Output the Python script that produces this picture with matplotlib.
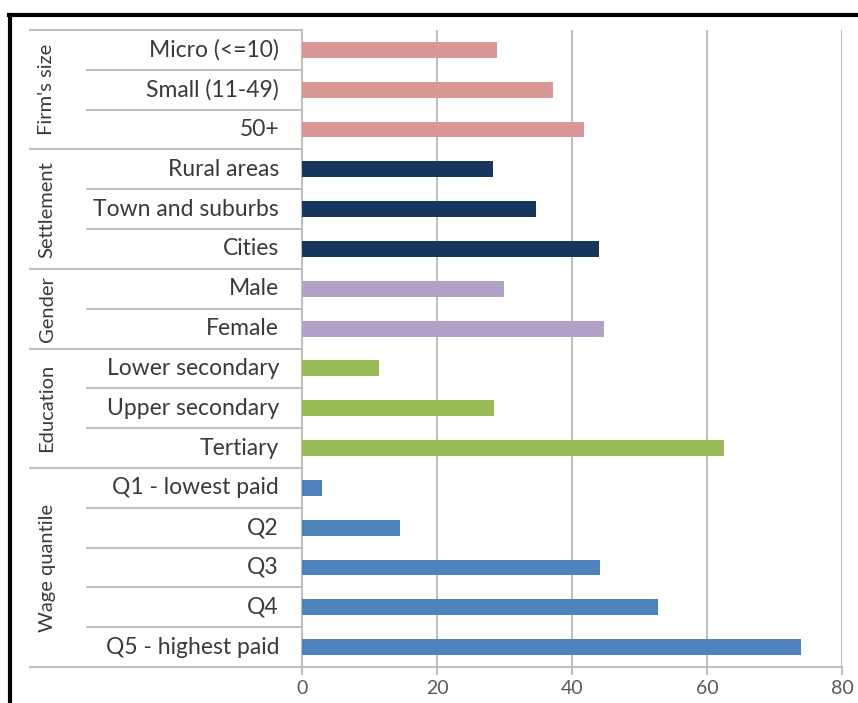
import matplotlib
matplotlib.use("Agg")
import matplotlib.pyplot as plt
from matplotlib.lines import Line2D
from matplotlib import transforms

plt.rcParams['font.family'] = ['Lato', 'DejaVu Sans']

# Share of workers (%) by characteristic
groups = ["Firm's size", "Settlement", "Gender", "Education", "Wage quantile"]
categories = [
    ["Micro (<=10)", "Small (11-49)", "50+"],
    ["Rural areas", "Town and suburbs", "Cities"],
    ["Male", "Female"],
    ["Lower secondary", "Upper secondary", "Tertiary"],
    ["Q1 - lowest paid", "Q2", "Q3", "Q4", "Q5 - highest paid"],
]
values = [
    [28.9, 37.2, 41.8],
    [28.3, 34.7, 44.0],
    [29.9, 44.7],
    [11.4, 28.4, 62.5],
    [3.0, 14.5, 44.1, 52.7, 73.9],
]
colors = ["#D99694", "#17375E", "#B3A2C7", "#9BBB59", "#4F81BD"]
xticks = [0, 20, 40, 60, 80]

W, H = 858, 703
fig = plt.figure(figsize=(W / 100, H / 100), dpi=100)

x0, x1 = 302, 842
y0, y1 = 30, 667
ax = fig.add_axes([x0 / W, 1 - y1 / H, (x1 - x0) / W, (y1 - y0) / H])

n_rows = sum(len(c) for c in categories)
grid_c = "#BFBFBF"
text_c = "#3A3A3A"

row = 0
for g, (cats, vals, col) in enumerate(zip(categories, values, colors)):
    ys = list(range(row, row + len(cats)))
    ax.barh(ys, vals, height=0.4, color=col, zorder=3)
    row += len(cats)

ax.set_xlim(0, 80)
ax.set_ylim(n_rows - 0.5, -0.5)
ax.set_xticks(xticks)
ax.set_xticklabels([str(t) for t in xticks], fontsize=14, color="#595959")
ax.set_yticks([])
ax.grid(axis="x", color=grid_c, linewidth=1.5, zorder=0)
for s in ["top", "right"]:
    ax.spines[s].set_visible(False)
ax.spines["left"].set_color(grid_c)
ax.spines["bottom"].set_color(grid_c)
ax.spines["left"].set_linewidth(1.5)
ax.spines["bottom"].set_linewidth(1.5)
ax.tick_params(axis="x", length=6, width=1.5, color=grid_c, pad=3)

# Category labels and group separators in the left margin
tr = transforms.blended_transform_factory(fig.transFigure, ax.transData)
def fx(px):
    return px / W

row = 0
for g, cats in enumerate(categories):
    for i, c in enumerate(cats):
        ax.text(fx(279), row + i, c, transform=tr, ha="right", va="center",
                fontsize=16.5, color=text_c)
        if i > 0:
            fig.add_artist(Line2D([fx(87), fx(x0)], [row + i - 0.5] * 2,
                                  transform=tr, color=grid_c, lw=1.5))
    fig.add_artist(Line2D([fx(30), fx(x0)], [row - 0.5] * 2,
                          transform=tr, color=grid_c, lw=1.5))
    ax.text(fx(47), row + (len(cats) - 1) / 2, groups[g], transform=tr,
            ha="center", va="center", rotation=90, fontsize=14.5, color=text_c)
    row += len(cats)
fig.add_artist(Line2D([fx(30), fx(x0)], [row - 0.5] * 2,
                      transform=tr, color=grid_c, lw=1.5))

# Frame around the figure
fig.add_artist(Line2D([9 / W, 1], [1 - 15 / H] * 2, color="black", lw=3))
fig.add_artist(Line2D([10 / W] * 2, [0, 1 - 15 / H], color="black", lw=3))

fig.savefig("out.png", dpi=100, facecolor="white")
